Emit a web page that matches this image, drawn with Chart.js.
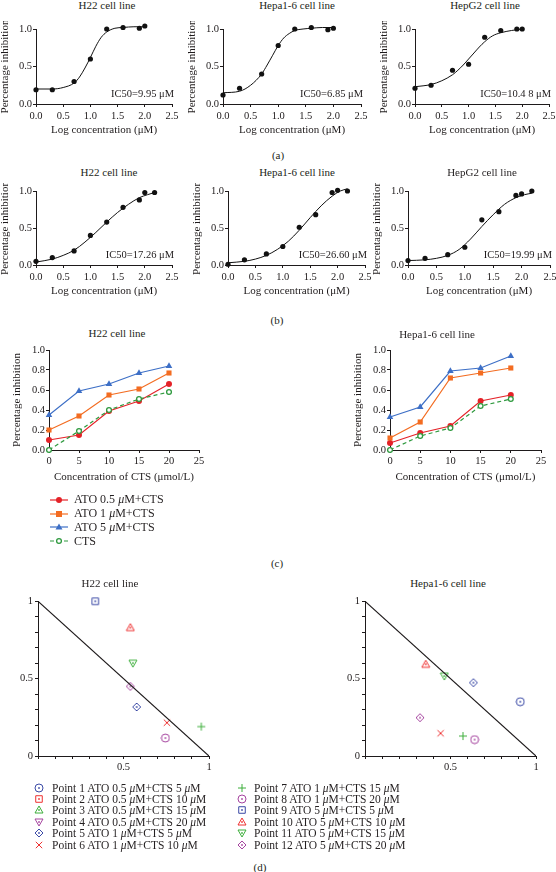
<!DOCTYPE html>
<html lang="en">
<head>
  <meta charset="UTF-8" />
  <title>ATO and CTS inhibition of hepatoma cells</title>

  <!-- Chart.js for all the panels -->
  <script src="https://cdn.jsdelivr.net/npm/chart.js"></script>

  <style>
    body {
      margin: 0;
      background: #fff;
      font-family: "Liberation Serif", "DejaVu Serif", serif;
      color: #231f20;
    }

    /* whole figure */
    #page {
      position: relative;
      width: 556px;
      height: 872px;
      overflow: hidden;
    }

    .box { position: absolute; }

    /* titles and panel letters */
    .lbl {
      position: absolute;
      font-size: 11px;
      white-space: nowrap;
      transform: translate(-50%, -50%);
    }

    /* html legends */
    .leg {
      position: absolute;
      white-space: nowrap;
    }
    .leg .row {
      display: flex;
      align-items: center;
    }
    .leg canvas { flex: none; }
  </style>
</head>
<body>
  <div id="page"></div>

  <script>
    // ---------- data ----------

    // (a) ATO dose-response, log concentration (uM)
    const logConcA = [0, 0.3, 0.7, 1.0, 1.3, 1.6, 1.9, 2.0];
    const inhibA_H22 = [0.19, 0.19, 0.30, 0.60, 1.00, 1.02, 1.01, 1.04];
    const inhibA_Hepa = [0.12, 0.21, 0.40, 0.78, 1.00, 1.02, 0.99, 1.01];
    const inhibA_HepG2 = [0.21, 0.25, 0.45, 0.53, 0.89, 0.98, 1.00, 1.00];

    // fitted curves of (a)
    const fitXA = [0, 0.3, 0.5, 0.7, 0.8, 0.9, 1.0, 1.1, 1.2, 1.3, 1.45, 1.6, 1.8, 2.0];
    const fitA_H22 = [0.20, 0.20, 0.22, 0.28, 0.36, 0.48, 0.62, 0.77, 0.89, 0.96, 1.01, 1.02, 1.03, 1.03];
    const fitA_Hepa = [0.15, 0.17, 0.25, 0.40, 0.52, 0.65, 0.78, 0.88, 0.94, 0.98, 1.00, 1.01, 1.02, 1.02];
    const fitA_HepG2 = [0.23, 0.26, 0.31, 0.39, 0.45, 0.52, 0.60, 0.68, 0.76, 0.83, 0.91, 0.95, 0.98, 1.00];

    // (b) CTS dose-response
    const logConcB = [0, 0.3, 0.7, 1.0, 1.3, 1.6, 1.9, 2.0, 2.18];
    const inhibB_H22 = [0.05, 0.10, 0.19, 0.40, 0.58, 0.78, 0.88, 0.98, 0.98];
    const inhibB_Hepa = [0.01, 0.07, 0.15, 0.25, 0.51, 0.68, 0.98, 1.01, 1.00];
    const inhibB_HepG2 = [0.06, 0.09, 0.14, 0.24, 0.61, 0.72, 0.94, 0.96, 1.00];

    // fitted curves of (b)
    const fitXB = [0, 0.3, 0.5, 0.7, 0.9, 1.1, 1.3, 1.5, 1.7, 1.9, 2.05, 2.18];
    const fitB_H22 = [0.04, 0.08, 0.13, 0.20, 0.31, 0.44, 0.58, 0.71, 0.82, 0.91, 0.95, 0.98];
    const fitB_Hepa = [0.03, 0.05, 0.08, 0.13, 0.21, 0.32, 0.47, 0.64, 0.80, 0.93, 1.00, 1.03];
    const fitB_HepG2 = [0.06, 0.07, 0.09, 0.13, 0.21, 0.35, 0.52, 0.68, 0.82, 0.91, 0.95, 0.97];

    const cellLines = ["H22 cell line", "Hepa1-6 cell line", "HepG2 cell line"];
    const ic50A = ["IC50=9.95 μM", "IC50=6.85 μM", "IC50=10.4 8 μM"];
    const ic50B = ["IC50=17.26 μM", "IC50=26.60 μM", "IC50=19.99 μM"];

    // (c) combination, CTS concentration (umol/L)
    const ctsConc = [0, 5, 10, 15, 20];
    const comboLabels = ["ATO 0.5 μM+CTS", "ATO 1 μM+CTS", "ATO 5 μM+CTS", "CTS"];
    const h22_ato05 = [0.10, 0.15, 0.39, 0.49, 0.66];
    const h22_ato1 = [0.20, 0.34, 0.55, 0.61, 0.77];
    const h22_ato5 = [0.35, 0.59, 0.66, 0.77, 0.84];
    const h22_cts = [0.00, 0.19, 0.40, 0.51, 0.58];
    const hepa_ato05 = [0.07, 0.17, 0.24, 0.49, 0.55];
    const hepa_ato1 = [0.12, 0.28, 0.72, 0.77, 0.82];
    const hepa_ato5 = [0.33, 0.43, 0.79, 0.82, 0.94];
    const hepa_cts = [0.00, 0.14, 0.22, 0.44, 0.51];

    // (d) isobolograms, null = not shown
    const isoLabels = [
      "Point 1 ATO 0.5 μM+CTS 5 μM", "Point 2 ATO 0.5 μM+CTS 10 μM",
      "Point 3 ATO 0.5 μM+CTS 15 μM", "Point 4 ATO 0.5 μM+CTS 20 μM",
      "Point 5 ATO 1 μM+CTS 5 μM", "Point 6 ATO 1 μM+CTS 10 μM",
      "Point 7 ATO 1 μM+CTS 15 μM", "Point 8 ATO 1 μM+CTS 20 μM",
      "Point 9 ATO 5 μM+CTS 5 μM", "Point 10 ATO 5 μM+CTS 10 μM",
      "Point 11 ATO 5 μM+CTS 15 μM", "Point 12 ATO 5 μM+CTS 20 μM"
    ];
    const isoH22X = [null, null, null, null, 0.577, 0.754, 0.955, 0.745, 0.335, 0.540, 0.555, 0.540];
    const isoH22Y = [null, null, null, null, 0.317, 0.215, 0.190, 0.116, 1.000, 0.830, 0.600, 0.450];
    const isoHepaX = [0.908, null, null, null, 0.634, 0.442, 0.573, 0.641, null, 0.355, 0.464, 0.322];
    const isoHepaY = [0.351, null, null, null, 0.474, 0.147, 0.129, 0.106, null, 0.593, 0.517, 0.248];
    const additiveX = [0, 1];
    const additiveY = [1, 0];

    // ---------- styles ----------
    const INK = "#1e1a1b";
    const RED = "#e42228", ORANGE = "#f36c21", BLUE = "#3d6fc6", GREEN = "#2f9a3f";
    const D_BLUE = "#3b4aa6", D_RED = "#ee3131", D_GREEN = "#3cae3a", D_PURPLE = "#a5449f";
    const isoShapes = ["circle", "square", "tri", "tridown", "diamond", "x", "plus", "circle", "square", "tri", "tridown", "diamond"];
    const isoColors = [D_BLUE, D_RED, D_GREEN, D_PURPLE, D_BLUE, D_RED, D_GREEN, D_PURPLE, D_BLUE, D_RED, D_GREEN, D_PURPLE];
    const FONT = '"Liberation Serif", "DejaVu Serif", serif';

    Chart.defaults.font.family = FONT;
    Chart.defaults.font.size = 10.5;
    Chart.defaults.color = INK;
    Chart.defaults.animation = false;

    const page = document.getElementById("page");

    // text placed on the page, centred on (x, y)
    function addText(text, x, y) {
      const d = document.createElement("div");
      d.className = "lbl";
      d.style.left = x + "px";
      d.style.top = y + "px";
      d.textContent = text;
      page.appendChild(d);
    }

    // small canvas drawn as a marker (used for the isobologram points)
    function marker(shape, color, size) {
      const c = document.createElement("canvas");
      c.width = c.height = size;
      const g = c.getContext("2d");
      const m = size / 2, r = size / 2 - 1;
      g.strokeStyle = color;
      g.fillStyle = color;
      g.lineWidth = 1;
      g.beginPath();
      if (shape === "circle") g.arc(m, m, r, 0, Math.PI * 2);
      else if (shape === "square") g.rect(m - r * 0.82, m - r * 0.82, r * 1.64, r * 1.64);
      else if (shape === "tri") { g.moveTo(m, m - r); g.lineTo(m + r, m + r * 0.75); g.lineTo(m - r, m + r * 0.75); g.closePath(); }
      else if (shape === "tridown") { g.moveTo(m, m + r); g.lineTo(m + r, m - r * 0.75); g.lineTo(m - r, m - r * 0.75); g.closePath(); }
      else if (shape === "diamond") { g.moveTo(m, m - r); g.lineTo(m + r, m); g.lineTo(m, m + r); g.lineTo(m - r, m); g.closePath(); }
      else if (shape === "plus") { g.moveTo(m, m - r); g.lineTo(m, m + r); g.moveTo(m - r, m); g.lineTo(m + r, m); }
      else if (shape === "x") { g.moveTo(m - r * 0.8, m - r * 0.8); g.lineTo(m + r * 0.8, m + r * 0.8); g.moveTo(m + r * 0.8, m - r * 0.8); g.lineTo(m - r * 0.8, m + r * 0.8); }
      g.stroke();
      if (shape !== "plus" && shape !== "x") g.fillRect(m - 0.8, m - 0.8, 1.6, 1.6);
      return c;
    }

    function linearAxis(min, max, step, fmt, title, tickPad) {
      return {
        type: "linear",
        min: min,
        max: max,
        ticks: { stepSize: step, callback: fmt, padding: tickPad, autoSkip: false, maxRotation: 0, color: INK },
        grid: { drawOnChartArea: false, drawTicks: true, tickLength: 3, color: INK, lineWidth: 1 },
        border: { display: true, color: INK, width: 1 },
        title: { display: !!title, text: title || "", padding: 0, color: INK, font: { size: 11 } }
      };
    }

    // area = plotting area on the page [left, top, right, bottom]
    // yW / xH = room kept for the y and x axes
    function plot(area, yW, xH, datasets, xAxis, yAxis, extra) {
      const padT = 8, padR = 14;
      const w = area[2] - area[0] + yW + padR;
      const h = area[3] - area[1] + padT + xH;
      const d = document.createElement("div");
      d.className = "box";
      d.style.left = (area[0] - yW) + "px";
      d.style.top = (area[1] - padT) + "px";
      const c = document.createElement("canvas");
      c.width = w; c.height = h;
      c.style.width = w + "px"; c.style.height = h + "px";
      d.appendChild(c);
      page.appendChild(d);

      xAxis.afterFit = s => { s.height = xH; };
      yAxis.afterFit = s => { s.width = yW; };

      return new Chart(c, {
        type: "scatter",
        data: { datasets: datasets },
        options: {
          responsive: false,
          layout: { padding: { top: padT, right: padR, left: 0, bottom: 0 } },
          plugins: { legend: { display: false }, tooltip: { enabled: false } },
          scales: { x: xAxis, y: yAxis }
        },
        plugins: extra || []
      });
    }

    // IC50 note, bottom right inside the plot
    function ic50Note(text) {
      return {
        id: "ic50",
        afterDatasetsDraw(chart) {
          const { ctx, chartArea, scales } = chart;
          ctx.save();
          ctx.font = "10.5px " + FONT;
          ctx.fillStyle = INK;
          ctx.textAlign = "right";
          ctx.textBaseline = "middle";
          ctx.fillText(text, chartArea.right + 2, scales.y.getPixelForValue(0.13));
          ctx.restore();
        }
      };
    }

    const pts = (xs, ys) => xs.map((x, i) => ({ x: x, y: ys[i] }));
    const oneDec = v => v.toFixed(1);

    // ---------- (a) and (b): dose-response ----------
    function doseChart(area, xs, ys, fx, fy, note) {
      const sets = [
        { data: pts(xs, ys), showLine: false, pointRadius: 2.6, pointBorderWidth: 0, backgroundColor: "#111", borderColor: "#111", clip: false },
        { data: pts(fx, fy), showLine: true, pointRadius: 0, borderColor: "#111", borderWidth: 1, cubicInterpolationMode: "monotone", clip: false }
      ];
      plot(area, 37, 33, sets,
        linearAxis(0, 2.5, 0.5, oneDec, "Log concentration (μM)", 3),
        linearAxis(0, 1, 0.5, oneDec, "Percentage inhibition", 1),
        [ic50Note(note)]);
    }

    doseChart([36, 29, 172, 104], logConcA, inhibA_H22, fitXA, fitA_H22, ic50A[0]);
    doseChart([223, 29, 361, 104], logConcA, inhibA_Hepa, fitXA, fitA_Hepa, ic50A[1]);
    doseChart([415, 29, 549, 104], logConcA, inhibA_HepG2, fitXA, fitA_HepG2, ic50A[2]);
    addText(cellLines[0], 107, 5);
    addText(cellLines[1], 297, 5);
    addText(cellLines[2], 485, 5);
    addText("(a)", 278, 155);

    doseChart([36, 191, 172, 265], logConcB, inhibB_H22, fitXB, fitB_H22, ic50B[0]);
    doseChart([228, 191, 365, 265], logConcB, inhibB_Hepa, fitXB, fitB_Hepa, ic50B[1]);
    doseChart([408, 191, 550, 265], logConcB, inhibB_HepG2, fitXB, fitB_HepG2, ic50B[2]);
    addText(cellLines[0], 109, 172);
    addText(cellLines[1], 297, 172);
    addText(cellLines[2], 482, 172);
    addText("(b)", 277, 320);

    // ---------- (c): combination curves ----------
    const comboStyles = [
      { color: RED, pointStyle: "circle", radius: 3, fill: RED, dash: [] },
      { color: ORANGE, pointStyle: "rect", radius: 3.6, fill: ORANGE, dash: [] },
      { color: BLUE, pointStyle: "triangle", radius: 3.8, fill: BLUE, dash: [] },
      { color: GREEN, pointStyle: "circle", radius: 2.4, fill: "#fff", dash: [4, 3] }
    ];

    function comboChart(area, series) {
      const sets = series.map((ys, i) => {
        const s = comboStyles[i];
        return {
          data: pts(ctsConc, ys), showLine: true, clip: false,
          borderColor: s.color, borderWidth: 1.2, borderDash: s.dash,
          pointStyle: s.pointStyle, pointRadius: s.radius,
          pointBackgroundColor: s.fill, pointBorderColor: s.color, pointBorderWidth: i === 3 ? 1.3 : 0
        };
      });
      plot(area, 38, 34, sets.reverse(),
        linearAxis(0, 25, 5, v => String(v), "Concentration of CTS (μmol/L)", 2),
        linearAxis(0, 1, 0.2, oneDec, "Percentage inhibition", 1));
    }

    comboChart([49, 350, 199, 450], [h22_ato05, h22_ato1, h22_ato5, h22_cts]);
    comboChart([390, 350, 541, 450], [hepa_ato05, hepa_ato1, hepa_ato5, hepa_cts]);
    addText(cellLines[0], 117, 333);
    addText(cellLines[1], 437, 334);
    addText("(c)", 277, 563);

    // legend of (c)
    const legC = document.createElement("div");
    legC.className = "leg";
    legC.style.left = "48px";
    legC.style.top = "493px";
    legC.style.fontSize = "12px";
    comboLabels.forEach((label, i) => {
      const s = comboStyles[i];
      const row = document.createElement("div");
      row.className = "row";
      row.style.height = "13.8px";
      const c = document.createElement("canvas");
      c.width = 22; c.height = 10;
      c.style.marginRight = "4px";
      const g = c.getContext("2d");
      g.strokeStyle = s.color;
      g.lineWidth = 1.2;
      g.setLineDash(s.dash);
      g.beginPath(); g.moveTo(2, 5); g.lineTo(20, 5); g.stroke();
      g.setLineDash([]);
      g.fillStyle = s.fill;
      g.beginPath();
      if (s.pointStyle === "circle") g.arc(11, 5, s.radius, 0, Math.PI * 2);
      else if (s.pointStyle === "rect") g.rect(11 - 3, 5 - 3, 6, 6);
      else { g.moveTo(11, 1.5); g.lineTo(14.5, 7.5); g.lineTo(7.5, 7.5); g.closePath(); }
      g.fill();
      if (i === 3) { g.lineWidth = 1.3; g.stroke(); }
      row.appendChild(c);
      const t = document.createElement("span");
      t.innerHTML = label.replace("μ", "<i>μ</i>");
      row.appendChild(t);
      legC.appendChild(row);
    });
    page.appendChild(legC);

    // ---------- (d): isobolograms ----------
    const isoMarkers = isoShapes.map((s, i) => marker(s, isoColors[i], 10));

    function isoChart(area, xs, ys) {
      const sets = [
        { data: pts(additiveX, additiveY), showLine: true, pointRadius: 0, borderColor: INK, borderWidth: 1.2 }
      ];
      xs.forEach((x, i) => {
        if (x === null) return;
        sets.push({ data: [{ x: x, y: ys[i] }], showLine: false, pointStyle: isoMarkers[i], pointRadius: 5, clip: false });
      });
      const near = (v, t) => Math.abs(v - t) < 1e-6;
      plot(area, 30, 22, sets,
        linearAxis(0, 1, 0.1, v => near(v, 0.5) ? "0.5" : near(v, 1) ? "1" : "", "", 2),
        linearAxis(0, 1, 0.1, v => near(v, 0.5) ? "0.5" : near(v, 1) ? "1" : near(v, 0) ? "0" : "", "", 2));
    }

    isoChart([38, 601, 209, 756], isoH22X, isoH22Y);
    isoChart([365, 601, 536, 756], isoHepaX, isoHepaY);
    addText(cellLines[0], 110, 583);
    addText(cellLines[1], 448, 583);
    addText("(d)", 260, 867);

    // legend of (d), two columns of six
    [[0, 34, 8], [6, 237, 7]].forEach(([start, left, gap]) => {
      const col = document.createElement("div");
      col.className = "leg";
      col.style.left = left + "px";
      col.style.top = "782px";
      col.style.fontSize = "11.5px";
      for (let i = start; i < start + 6; i++) {
        const row = document.createElement("div");
        row.className = "row";
        row.style.height = "11.4px";
        const c = marker(isoShapes[i], isoColors[i], 10);
        c.style.marginRight = gap + "px";
        row.appendChild(c);
        const t = document.createElement("span");
        t.innerHTML = isoLabels[i].replace(/μ/g, "<i>μ</i>");
        row.appendChild(t);
        col.appendChild(row);
      }
      page.appendChild(col);
    });
  </script>
</body>
</html>
